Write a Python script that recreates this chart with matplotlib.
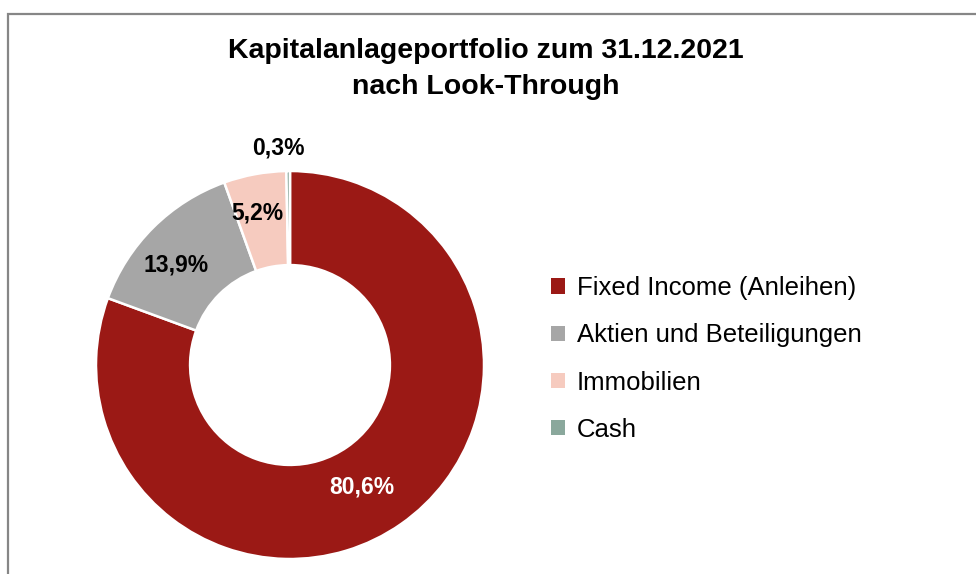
import matplotlib
matplotlib.use("Agg")
import matplotlib.pyplot as plt
from matplotlib.patches import Rectangle, Patch
import numpy as np

plt.rcParams['font.family'] = ['Liberation Sans', 'DejaVu Sans']

labels = ["Fixed Income (Anleihen)", "Aktien und Beteiligungen", "Immobilien", "Cash"]
values = [80.6, 13.9, 5.2, 0.3]
colors = ["#9b1915", "#a6a6a6", "#f6cbbf", "#8aa89c"]
title = "Kapitalanlageportfolio zum 31.12.2021\nnach Look-Through"

W, H = 976, 574
fig = plt.figure(figsize=(W/100, H/100), dpi=100)

# grey frame (right and bottom edges are cut off in the original)
fig.patches.append(Rectangle((8/W, -0.1), 1.2, 1 - 14/H + 0.1, transform=fig.transFigure,
                             fill=False, edgecolor="#868686", linewidth=1.6))

cx, cy, R = 290, 365, 194
ax = fig.add_axes([(cx-R)/W, (H-cy-R)/H, 2*R/W, 2*R/H])
wedges, _ = ax.pie(values, colors=colors, startangle=90, counterclock=False, radius=1,
                   wedgeprops=dict(width=0.485, edgecolor="white", linewidth=1.8))
ax.set_xlim(-1, 1)
ax.set_ylim(-1, 1)
ax.set_aspect("equal")
ax.axis("off")

# percentage labels: (radius, angle shift in degrees) per wedge
lab_pos = [(0.73, -4.5), (0.78, 4), (0.80, 1.8), (1.12, 2.5)]
for i, (w, v) in enumerate(zip(wedges, values)):
    r, dt = lab_pos[i]
    mid = np.deg2rad((w.theta1 + w.theta2) / 2 + dt)
    txt = ("%.1f%%" % v).replace(".", ",")
    col = "white" if i == 0 else "black"
    ax.text(r*np.cos(mid), r*np.sin(mid), txt, ha="center", va="center",
            fontsize=16.5, fontweight="bold", color=col)

fig.text(486/W, 1 - 69/H, title, ha="center", va="center", fontsize=20.5,
         fontweight="bold", linespacing=1.45)

handles = [Patch(facecolor=c, edgecolor="none") for c in colors]
fig.legend(handles, labels, loc="center left", bbox_to_anchor=(551/W, 1 - 359/H),
           frameon=False, fontsize=18.5, handlelength=0.55, handleheight=0.55,
           handletextpad=0.45, labelspacing=0.9, borderpad=0, borderaxespad=0)

fig.savefig("out.png", dpi=100)
